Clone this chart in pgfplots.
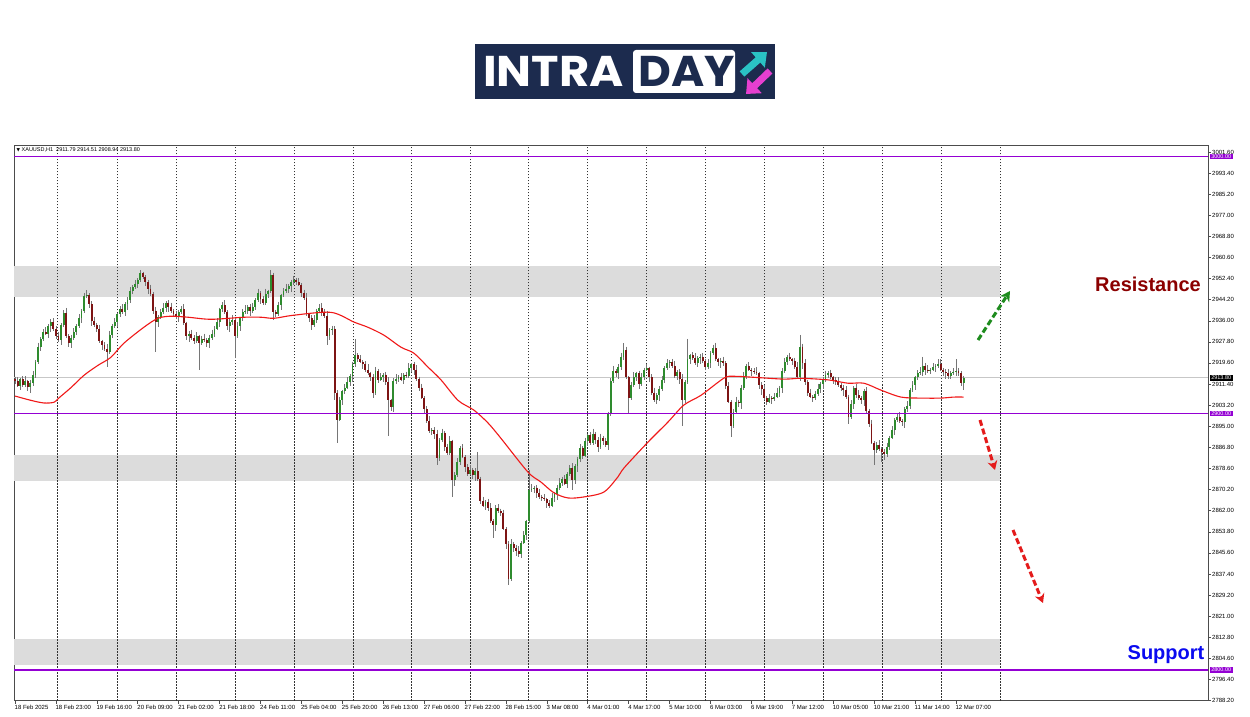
\documentclass[border=0pt]{standalone}
\usepackage{fontspec}
\setmainfont{Liberation Sans}
\newfontfamily\dejavu{DejaVu Sans}
\newfontfamily\logofont{Poppins}
\usepackage{pgfplots}
\usepackage{pgfplotstable}
\pgfplotsset{compat=1.18}
\usetikzlibrary{arrows.meta}
\definecolor{upcol}{HTML}{2E8B2E}
\definecolor{dncol}{HTML}{7D1414}
\definecolor{wickcol}{HTML}{767676}
\definecolor{macol}{HTML}{F01818}
\definecolor{lvlcol}{HTML}{9400D3}
\definecolor{zone}{HTML}{DCDCDC}
\definecolor{navy}{HTML}{1C2B4E}
\definecolor{logocyan}{HTML}{2AC2C4}
\definecolor{logomag}{HTML}{E53FD0}
\definecolor{resred}{HTML}{8B0000}
\definecolor{supblue}{HTML}{0A0AF0}
\definecolor{resgreen}{HTML}{1E8C1E}
\definecolor{arrred}{HTML}{E41B1B}

\pgfplotstableread{
o h l c
2913.5 2914.3 2911.3 2912.5
2912.5 2914.0 2910.2 2910.8
2910.8 2913.8 2909.0 2913.2
2913.2 2914.4 2910.1 2911.0
2911.0 2914.4 2910.3 2912.4
2912.4 2913.1 2908.7 2910.2
2910.2 2912.9 2908.0 2911.8
2911.8 2916.6 2910.8 2915.0
2915.0 2920.6 2913.8 2919.8
2919.8 2927.5 2919.2 2926.0
2926.0 2929.6 2924.2 2929.0
2929.0 2932.7 2928.1 2931.5
2931.5 2933.5 2930.3 2931.0
2931.0 2934.7 2929.5 2934.0
2934.0 2936.6 2931.8 2935.5
2935.5 2937.1 2932.0 2933.0
2933.0 2933.8 2928.8 2930.0
2930.0 2931.5 2927.9 2928.5
2928.5 2935.1 2926.7 2934.5
2934.5 2940.2 2933.6 2939.0
2939.0 2941.0 2929.3 2930.0
2930.0 2930.7 2926.0 2927.5
2927.5 2930.6 2925.3 2929.5
2929.5 2933.1 2928.5 2931.5
2931.5 2934.6 2930.3 2933.8
2933.8 2938.5 2933.2 2937.0
2937.0 2940.6 2935.2 2940.0
2940.0 2946.7 2939.1 2945.5
2945.5 2948.0 2944.8 2946.0
2946.0 2946.7 2941.0 2942.5
2942.5 2943.6 2933.8 2936.0
2936.0 2937.6 2933.5 2934.5
2934.5 2935.3 2931.8 2933.0
2933.0 2934.5 2927.4 2928.0
2928.0 2928.6 2924.7 2926.5
2926.5 2927.7 2924.1 2925.0
2925.0 2927.0 2918.0 2924.0
2924.0 2932.1 2923.0 2930.5
2930.5 2934.8 2929.3 2934.0
2934.0 2937.0 2933.4 2935.5
2935.5 2939.1 2933.7 2938.5
2938.5 2941.7 2937.6 2940.5
2940.5 2942.5 2938.8 2939.5
2939.5 2943.2 2938.0 2942.5
2942.5 2945.1 2940.3 2944.0
2944.0 2949.1 2943.0 2947.5
2947.5 2949.8 2946.3 2949.0
2949.0 2952.0 2948.4 2950.5
2950.5 2952.6 2948.7 2952.0
2952.0 2955.8 2951.1 2954.5
2954.5 2955.2 2952.3 2953.0
2953.0 2953.7 2949.5 2951.0
2951.0 2952.1 2946.3 2948.5
2948.5 2950.1 2945.5 2946.5
2946.5 2947.3 2938.8 2940.0
2940.0 2941.5 2924.0 2935.5
2935.5 2938.1 2933.7 2937.5
2937.5 2940.7 2936.6 2939.5
2939.5 2943.0 2938.8 2941.0
2941.0 2943.7 2939.5 2943.0
2943.0 2944.1 2939.3 2941.5
2941.5 2943.1 2939.0 2940.0
2940.0 2940.8 2937.3 2938.5
2938.5 2940.0 2936.9 2937.5
2937.5 2940.1 2935.7 2939.5
2939.5 2941.7 2938.6 2940.5
2940.5 2942.5 2934.3 2935.0
2935.0 2935.7 2928.5 2930.0
2930.0 2932.1 2927.8 2931.0
2931.0 2932.6 2928.5 2929.5
2929.5 2930.3 2926.8 2928.0
2928.0 2931.5 2927.4 2930.0
2930.0 2930.6 2917.0 2927.5
2927.5 2930.2 2926.6 2929.0
2929.0 2931.0 2927.8 2928.5
2928.5 2929.2 2926.0 2927.5
2927.5 2930.6 2925.3 2929.5
2929.5 2932.6 2928.5 2931.0
2931.0 2933.8 2929.8 2933.0
2933.0 2937.0 2932.4 2935.5
2935.5 2941.1 2933.7 2940.5
2940.5 2943.2 2939.6 2942.0
2942.0 2944.0 2938.8 2939.5
2939.5 2940.2 2932.5 2934.0
2934.0 2936.6 2931.8 2935.5
2935.5 2938.1 2934.5 2936.5
2936.5 2937.3 2921.5 2930.0
2930.0 2935.5 2929.4 2934.0
2934.0 2937.6 2932.2 2937.0
2937.0 2940.7 2936.1 2939.5
2939.5 2942.0 2938.8 2940.0
2940.0 2942.2 2938.5 2941.5
2941.5 2942.6 2937.8 2940.0
2940.0 2943.1 2939.0 2941.5
2941.5 2944.8 2940.3 2944.0
2944.0 2948.5 2943.4 2947.0
2947.0 2947.6 2942.7 2944.5
2944.5 2945.7 2942.1 2943.0
2943.0 2948.5 2942.3 2946.5
2946.5 2948.2 2945.0 2947.5
2947.5 2955.7 2946.8 2954.0
2954.0 2954.8 2936.5 2939.5
2939.5 2940.3 2937.3 2938.5
2938.5 2943.5 2937.9 2942.0
2942.0 2946.6 2940.2 2946.0
2946.0 2948.7 2945.1 2947.5
2947.5 2950.5 2946.8 2948.5
2948.5 2950.2 2947.0 2949.5
2949.5 2952.1 2947.3 2951.0
2951.0 2953.6 2950.0 2952.0
2952.0 2952.8 2949.8 2951.0
2951.0 2952.5 2949.4 2950.0
2950.0 2950.6 2945.2 2947.0
2947.0 2948.2 2944.1 2945.0
2945.0 2947.0 2937.8 2938.5
2938.5 2939.2 2935.5 2937.0
2937.0 2938.1 2932.3 2934.5
2934.5 2938.1 2933.5 2936.5
2936.5 2940.8 2935.3 2940.0
2940.0 2942.5 2939.4 2941.0
2941.0 2943.0 2937.7 2939.5
2939.5 2940.7 2937.1 2938.0
2938.0 2940.0 2926.5 2930.0
2930.0 2933.2 2928.5 2932.5
2932.5 2934.1 2930.3 2933.0
2933.0 2934.0 2905.0 2908.0
2908.0 2909.0 2888.5 2897.5
2897.5 2906.5 2896.9 2905.0
2905.0 2909.1 2903.2 2908.5
2908.5 2911.2 2907.6 2910.0
2910.0 2914.0 2909.3 2912.0
2912.0 2915.2 2910.5 2914.5
2914.5 2920.1 2912.3 2919.0
2919.0 2929.0 2918.0 2922.5
2922.5 2923.3 2919.8 2921.0
2921.0 2922.5 2919.4 2920.0
2920.0 2920.6 2917.2 2919.0
2919.0 2920.2 2916.1 2917.0
2917.0 2919.0 2914.8 2915.5
2915.5 2916.2 2912.5 2914.0
2914.0 2915.1 2905.8 2908.0
2908.0 2918.1 2907.0 2916.5
2916.5 2917.3 2911.8 2913.0
2913.0 2915.5 2912.4 2914.0
2914.0 2915.6 2912.2 2915.0
2915.0 2916.2 2911.1 2912.0
2912.0 2914.0 2891.0 2905.0
2905.0 2905.7 2901.0 2902.5
2902.5 2913.6 2900.3 2912.5
2912.5 2915.1 2911.5 2913.5
2913.5 2914.8 2912.3 2914.0
2914.0 2915.5 2912.4 2913.0
2913.0 2915.6 2911.2 2915.0
2915.0 2916.2 2913.6 2914.5
2914.5 2919.5 2913.8 2917.5
2917.5 2919.7 2916.0 2919.0
2919.0 2920.1 2914.8 2917.0
2917.0 2918.6 2912.5 2913.5
2913.5 2914.3 2908.8 2910.0
2910.0 2911.5 2905.4 2906.0
2906.0 2906.6 2899.7 2901.5
2901.5 2902.7 2896.1 2897.0
2897.0 2899.0 2892.3 2893.0
2893.0 2894.2 2891.5 2893.5
2893.5 2894.6 2889.8 2892.0
2892.0 2893.6 2880.0 2882.5
2882.5 2890.3 2881.3 2889.5
2889.5 2894.0 2888.9 2892.5
2892.5 2893.1 2885.2 2887.0
2887.0 2888.2 2883.6 2884.5
2884.5 2891.0 2883.8 2889.0
2889.0 2889.7 2867.5 2874.0
2874.0 2877.1 2871.8 2876.0
2876.0 2882.6 2875.0 2881.0
2881.0 2887.3 2879.8 2886.5
2886.5 2888.0 2882.4 2883.0
2883.0 2883.6 2877.2 2879.0
2879.0 2880.2 2875.6 2876.5
2876.5 2880.0 2875.8 2878.0
2878.0 2878.7 2874.5 2876.0
2876.0 2878.6 2873.8 2877.5
2877.5 2885.0 2873.5 2874.5
2874.5 2875.3 2864.8 2866.0
2866.0 2867.5 2863.4 2864.0
2864.0 2866.1 2862.2 2865.5
2865.5 2866.7 2862.1 2863.0
2863.0 2865.0 2857.3 2858.0
2858.0 2858.7 2851.5 2856.5
2856.5 2864.1 2854.3 2863.0
2863.0 2864.6 2861.0 2862.0
2862.0 2862.8 2859.8 2861.0
2861.0 2862.5 2854.4 2855.0
2855.0 2855.6 2847.2 2849.0
2849.0 2850.1 2833.2 2835.5
2835.5 2851.0 2834.8 2849.0
2849.0 2849.7 2846.0 2847.5
2847.5 2848.6 2844.3 2846.5
2846.5 2848.1 2844.0 2845.0
2845.0 2850.3 2843.8 2849.5
2849.5 2854.0 2848.9 2852.5
2852.5 2858.6 2850.7 2858.0
2858.0 2878.0 2857.1 2870.0
2870.0 2872.5 2869.3 2870.5
2870.5 2871.7 2869.0 2871.0
2871.0 2872.1 2866.8 2869.0
2869.0 2870.6 2866.5 2867.5
2867.5 2868.3 2865.8 2867.0
2867.0 2868.5 2865.9 2866.5
2866.5 2867.1 2863.2 2865.0
2865.0 2866.2 2863.1 2864.0
2864.0 2869.0 2863.3 2867.0
2867.0 2869.2 2865.5 2868.5
2868.5 2872.1 2866.3 2871.0
2871.0 2874.6 2870.0 2873.0
2873.0 2875.3 2871.8 2874.5
2874.5 2876.0 2871.9 2872.5
2872.5 2877.1 2870.7 2876.5
2876.5 2879.7 2875.6 2878.5
2878.5 2880.5 2870.0 2874.0
2874.0 2880.2 2872.5 2879.5
2879.5 2883.1 2877.3 2882.0
2882.0 2888.1 2881.0 2886.5
2886.5 2887.3 2882.3 2883.5
2883.5 2890.5 2882.9 2889.0
2889.0 2892.1 2887.2 2891.5
2891.5 2892.7 2887.6 2888.5
2888.5 2894.0 2887.8 2892.0
2892.0 2892.7 2888.0 2889.5
2889.5 2890.6 2884.8 2887.0
2887.0 2892.1 2886.0 2890.5
2890.5 2891.3 2887.8 2889.0
2889.0 2890.5 2886.9 2887.5
2887.5 2900.6 2885.7 2900.0
2900.0 2913.7 2899.1 2912.5
2912.5 2918.5 2911.8 2916.5
2916.5 2917.2 2914.0 2915.5
2915.5 2919.1 2913.3 2918.0
2918.0 2923.6 2917.0 2922.0
2922.0 2927.3 2920.8 2924.5
2924.5 2926.0 2913.4 2914.0
2914.0 2914.6 2900.0 2906.0
2906.0 2912.2 2905.1 2911.0
2911.0 2916.0 2910.3 2914.0
2914.0 2916.2 2912.5 2915.5
2915.5 2916.6 2909.3 2911.5
2911.5 2915.6 2910.5 2914.0
2914.0 2917.8 2912.8 2917.0
2917.0 2919.0 2916.4 2917.5
2917.5 2918.1 2912.2 2914.0
2914.0 2915.2 2907.1 2908.0
2908.0 2910.0 2904.3 2905.0
2905.0 2907.7 2903.5 2907.0
2907.0 2910.6 2904.8 2909.5
2909.5 2914.6 2908.5 2913.0
2913.0 2918.3 2911.8 2917.5
2917.5 2921.0 2916.9 2919.5
2919.5 2920.6 2917.7 2920.0
2920.0 2921.2 2917.6 2918.5
2918.5 2920.5 2913.8 2914.5
2914.5 2916.7 2913.0 2916.0
2916.0 2917.1 2911.3 2913.5
2913.5 2915.1 2895.0 2905.0
2905.0 2912.8 2903.8 2912.0
2912.0 2929.0 2911.4 2921.0
2921.0 2923.1 2919.2 2922.5
2922.5 2923.7 2920.6 2921.5
2921.5 2923.5 2918.8 2919.5
2919.5 2922.2 2918.0 2921.5
2921.5 2923.1 2919.3 2922.0
2922.0 2923.6 2919.5 2920.5
2920.5 2921.3 2916.8 2918.0
2918.0 2921.0 2917.4 2919.5
2919.5 2924.1 2917.7 2923.5
2923.5 2926.7 2922.6 2925.5
2925.5 2927.5 2920.3 2921.0
2921.0 2921.7 2918.5 2920.0
2920.0 2921.6 2917.8 2920.5
2920.5 2922.1 2918.5 2919.5
2919.5 2920.3 2909.3 2910.5
2910.5 2912.0 2903.9 2904.5
2904.5 2905.1 2890.7 2895.0
2895.0 2901.7 2894.1 2900.5
2900.5 2906.5 2899.8 2904.5
2904.5 2905.2 2902.5 2904.0
2904.0 2911.1 2901.8 2910.0
2910.0 2916.1 2909.0 2914.5
2914.5 2919.3 2913.3 2918.5
2918.5 2920.0 2916.4 2917.0
2917.0 2917.6 2914.7 2916.5
2916.5 2917.7 2915.1 2916.0
2916.0 2918.0 2914.8 2915.5
2915.5 2916.2 2909.5 2911.0
2911.0 2912.1 2907.3 2909.5
2909.5 2911.1 2905.0 2906.0
2906.0 2906.8 2903.3 2904.5
2904.5 2907.5 2903.9 2906.0
2906.0 2906.6 2903.7 2905.5
2905.5 2907.7 2904.6 2906.5
2906.5 2910.0 2905.8 2908.0
2908.0 2910.7 2906.5 2910.0
2910.0 2917.6 2907.8 2916.5
2916.5 2921.6 2915.5 2920.0
2920.0 2922.8 2918.8 2922.0
2922.0 2923.5 2920.4 2921.0
2921.0 2921.6 2918.7 2920.5
2920.5 2921.7 2917.1 2918.0
2918.0 2920.0 2913.3 2914.0
2914.0 2930.5 2912.5 2926.0
2926.0 2927.1 2917.3 2919.5
2919.5 2921.1 2911.0 2912.0
2912.0 2912.8 2906.8 2908.0
2908.0 2909.5 2905.9 2906.5
2906.5 2907.1 2904.2 2906.0
2906.0 2908.7 2905.1 2907.5
2907.5 2911.5 2906.8 2909.5
2909.5 2912.2 2908.0 2911.5
2911.5 2914.1 2909.3 2913.0
2913.0 2916.6 2912.0 2915.0
2915.0 2916.3 2913.8 2915.5
2915.5 2917.0 2913.4 2914.0
2914.0 2914.6 2911.2 2913.0
2913.0 2914.2 2911.1 2912.0
2912.0 2914.0 2910.3 2911.0
2911.0 2911.7 2908.5 2910.0
2910.0 2911.1 2906.8 2909.0
2909.0 2910.6 2905.5 2906.5
2906.5 2907.3 2896.0 2898.5
2898.5 2905.0 2897.9 2903.5
2903.5 2910.6 2901.7 2910.0
2910.0 2911.2 2906.1 2907.0
2907.0 2909.0 2905.3 2906.0
2906.0 2906.7 2903.5 2905.0
2905.0 2909.6 2902.8 2908.5
2908.5 2910.1 2900.0 2901.0
2901.0 2901.8 2894.8 2896.0
2896.0 2897.5 2887.9 2888.5
2888.5 2889.1 2880.0 2885.5
2885.5 2888.7 2884.6 2887.5
2887.5 2889.5 2885.3 2886.0
2886.0 2886.7 2881.0 2885.0
2885.0 2886.1 2881.8 2884.0
2884.0 2888.6 2883.0 2887.0
2887.0 2891.3 2885.8 2890.5
2890.5 2895.0 2889.9 2893.5
2893.5 2898.1 2891.7 2897.5
2897.5 2899.7 2896.6 2898.5
2898.5 2900.5 2896.3 2897.0
2897.0 2897.7 2895.0 2896.5
2896.5 2902.6 2894.3 2901.5
2901.5 2904.6 2900.5 2903.0
2903.0 2909.8 2901.8 2909.0
2909.0 2912.5 2908.4 2911.0
2911.0 2914.6 2909.2 2914.0
2914.0 2916.7 2913.1 2915.5
2915.5 2918.0 2914.8 2916.0
2916.0 2922.0 2914.5 2918.5
2918.5 2919.6 2914.8 2917.0
2917.0 2918.6 2915.5 2916.5
2916.5 2917.8 2915.3 2917.0
2917.0 2919.5 2916.4 2918.0
2918.0 2919.1 2916.2 2918.5
2918.5 2921.0 2917.6 2919.0
2919.0 2921.0 2916.3 2917.0
2917.0 2917.7 2914.5 2916.0
2916.0 2917.1 2913.3 2915.5
2915.5 2917.1 2913.5 2914.5
2914.5 2916.3 2913.3 2915.5
2915.5 2917.5 2914.9 2916.0
2916.0 2921.0 2914.7 2916.5
2916.5 2917.7 2914.6 2915.5
2915.5 2916.5 2910.5 2911.8
2911.79 2914.51 2908.94 2913.80
}\candles

\begin{document}
\begin{tikzpicture}[x=1pt,y=1pt]
\fill[white] (0,0) rectangle (1250,716);
\begin{axis}[
  at={(14pt,15.5pt)}, anchor=south west,
  scale only axis, width=1194pt, height=555pt,
  xmin=-0.4, xmax=466.6, ymin=2788.1, ymax=3004.3,
  clip=false,
  axis line style={black!70, line width=0.8pt},
  tick style={black!70, line width=0.6pt},
  tick align=outside, major tick length=3pt,
  xtick pos=bottom, ytick pos=right,
  yticklabel pos=right,
  xtick={0,16,...,368},
  xticklabels={18 Feb 2025,18 Feb 23:00,19 Feb 16:00,20 Feb 09:00,21 Feb 02:00,21 Feb 18:00,24 Feb 11:00,25 Feb 04:00,25 Feb 20:00,26 Feb 13:00,27 Feb 06:00,27 Feb 22:00,28 Feb 15:00,3 Mar 08:00,4 Mar 01:00,4 Mar 17:00,5 Mar 10:00,6 Mar 03:00,6 Mar 19:00,7 Mar 12:00,10 Mar 05:00,10 Mar 21:00,11 Mar 14:00,12 Mar 07:00},
  ytick={3001.6,2993.4,2985.2,2977,2968.8,2960.6,2952.4,2944.2,2936,2927.8,2919.6,2911.4,2903.2,2895,2886.8,2878.6,2870.2,2862,2853.8,2845.6,2837.4,2829.2,2821,2812.8,2804.6,2796.4,2788.2},
  yticklabels={3001.60,2993.40,2985.20,2977.00,2968.80,2960.60,2952.40,2944.20,2936.00,2927.80,2919.60,2911.40,2903.20,2895.00,2886.80,2878.60,2870.20,2862.00,2853.80,2845.60,2837.40,2829.20,2821.00,2812.80,2804.60,2796.40,2788.20},
  xticklabel style={anchor=north west, inner sep=0pt, xshift=-0.5pt, yshift=-1.5pt, font=\fontsize{6}{7}\selectfont},
  yticklabel style={anchor=west, inner sep=0pt, xshift=1pt, font=\fontsize{6}{7}\selectfont},
]
% zones
\fill[zone] (axis cs:-0.4,2957.2) rectangle (axis cs:385.2,2945.1);
\fill[zone] (axis cs:-0.4,2883.7) rectangle (axis cs:385.2,2873.5);
\fill[zone] (axis cs:-0.4,2812.1) rectangle (axis cs:385.2,2802.0);
% grid
\pgfplotsinvokeforeach{16.4,39.9,63.0,86.0,109.1,132.2,154.9,177.9,200.6,223.7,246.8,269.8,292.9,316.0,339.1,362.1,385.2}{
  \draw[black!80, line width=0.6pt, dash pattern=on 1.5pt off 1.5pt] (axis cs:#1,2788.1) -- (axis cs:#1,3004.3);
}
% current price line
\addplot[black!22, line width=0.8pt, mark=none, forget plot] coordinates {(-0.4,2913.8)(466.6,2913.8)};
% wicks
\addplot[draw=none, mark=none, forget plot,
  error bars/.cd, y dir=minus, y explicit, error mark=none,
  error bar style={draw=wickcol, line width=0.7pt}]
  table[x expr=\coordindex, y=h, y error expr=\thisrow{h}-\thisrow{l}] {\candles};
% bullish bodies
\addplot[draw=none, mark=none, forget plot,
  x filter/.expression={\thisrow{c}>=\thisrow{o} ? x : nan},
  error bars/.cd, y dir=minus, y explicit, error mark=none,
  error bar style={draw=upcol, line width=1.9pt}]
  table[x expr=\coordindex, y=c, y error expr=\thisrow{c}-\thisrow{o}] {\candles};
% bearish bodies
\addplot[draw=none, mark=none, forget plot,
  x filter/.expression={\thisrow{c}<\thisrow{o} ? x : nan},
  error bars/.cd, y dir=minus, y explicit, error mark=none,
  error bar style={draw=dncol, line width=1.9pt}]
  table[x expr=\coordindex, y=o, y error expr=\thisrow{o}-\thisrow{c}] {\candles};
% moving average
\addplot[macol, line width=1.1pt, smooth, tension=0.5, mark=none, forget plot] coordinates {
(0,2906.7)(6.3,2905)(11.3,2904)(15.3,2904.3)(17.2,2906)(21.9,2910)(27,2914.8)(32.5,2918.7)(37.5,2921.8)(42.6,2927.3)(50.4,2933.5)(55.9,2937)(61,2937.8)(67.7,2937.4)(76.7,2936.6)(89.6,2937.4)(96.2,2937.4)(101.3,2937)(109.1,2938.2)(123.6,2939.3)(132.6,2935.5)(138,2933.5)(144.3,2930.4)(151,2925.7)(156,2923.4)(161.5,2918)(166.6,2913)(173.3,2905)(179.5,2901.2)(185,2896.2)(190,2890.3)(200.6,2877.1)(205.7,2873.2)(210.8,2869)(216.3,2867)(222.5,2867.4)(230.3,2869.3)(235.8,2875.2)(238.2,2878.7)(247.6,2888.8)(255.4,2896.6)(261.6,2903.2)(268.3,2907)(277.3,2913.7)(281.2,2914.4)(289,2914)(300.7,2913.3)(307.4,2913.6)(318,2913)(325.8,2911.7)(332,2911.7)(338.7,2909)(346.5,2906.3)(354.3,2905.9)(362.1,2905.9)(367.2,2906.3)(371,2906.3)};
% level lines
\addplot[lvlcol, line width=1.4pt, mark=none, forget plot] coordinates {(-0.4,3000)(466.6,3000)};
\addplot[lvlcol, line width=1.4pt, mark=none, forget plot] coordinates {(-0.4,2900)(466.6,2900)};
\addplot[lvlcol, line width=1.4pt, mark=none, forget plot] coordinates {(-0.4,2800)(466.6,2800)};
% price boxes
\node[fill=lvlcol, text=white, inner xsep=1.5pt, inner ysep=0.8pt, anchor=west, font=\fontsize{5.5}{6}\selectfont] at (axis cs:467.2,3000) {3000.00};
\node[fill=lvlcol, text=white, inner xsep=1.5pt, inner ysep=0.8pt, anchor=west, font=\fontsize{5.5}{6}\selectfont] at (axis cs:467.2,2800) {2800.00};
\node[fill=lvlcol, text=white, inner xsep=1.5pt, inner ysep=0.8pt, anchor=west, font=\fontsize{5.5}{6}\selectfont] at (axis cs:467.2,2900) {2900.00};
\node[fill=black, text=white, inner xsep=1.5pt, inner ysep=0.8pt, anchor=west, font=\fontsize{5.5}{6}\selectfont] at (axis cs:467.2,2913.8) {2913.80};
% header
\node[anchor=north west, inner sep=0pt, font=\fontsize{5.5}{6.5}\selectfont] at ([xshift=2.5pt,yshift=-2pt]rel axis cs:0,1) {{\dejavu\fontsize{4.5}{5}\selectfont\symbol{"25BC}}\ XAUUSD,H1\ \ 2911.79 2914.51 2908.94 2913.80};
\end{axis}
% arrows
\draw[resgreen, line width=3pt, dash pattern=on 6pt off 3pt, -{Stealth[length=10pt,width=11pt]}] (978,376) -- (1010,425);
\draw[arrred, line width=3pt, dash pattern=on 6pt off 3pt, -{Stealth[length=9pt,width=10pt]}] (980,296) -- (995,246);
\draw[arrred, line width=3pt, dash pattern=on 6pt off 3pt, -{Stealth[length=9pt,width=10pt]}] (1013,186) -- (1043,113);
% labels
\node[resred, font=\fontsize{20}{22}\selectfont\bfseries] at (1148,432) {Resistance};
\node[supblue, font=\fontsize{20}{22}\selectfont\bfseries] at (1166,61) {Support};
% logo
\fill[navy] (475,617) rectangle (775,672);
\fill[white, rounded corners=3pt] (633,623) rectangle (735,666);
\node[white, anchor=base west, inner sep=0pt, font=\logofont\fontsize{43}{45}\selectfont\bfseries] at (483,629) {\scalebox{1.08}[1]{INTRA}};
\node[navy, anchor=base west, inner sep=0pt, font=\logofont\fontsize{43}{45}\selectfont\bfseries] at (638,629) {\scalebox{1.05}[1]{DAY}};
\draw[logocyan, line width=7pt, -{Triangle[length=12pt,width=20pt]}] (742,642) -- (767,664);
\draw[logomag, line width=7pt, -{Triangle[length=12pt,width=20pt]}] (770,645) -- (746,622);
\end{tikzpicture}
\end{document}
